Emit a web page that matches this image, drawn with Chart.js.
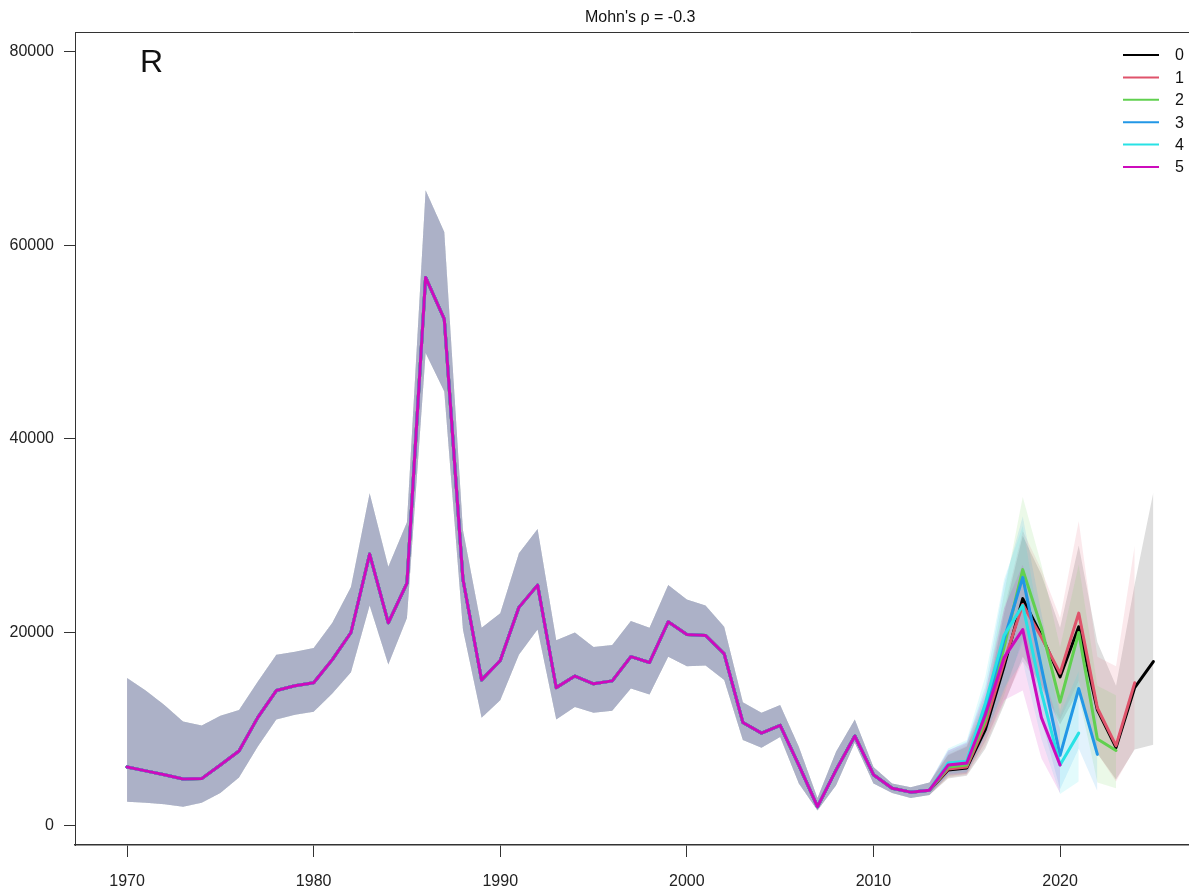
<!DOCTYPE html>
<html>
<head>
<meta charset="utf-8">
<title>Retrospective R</title>
<script src="https://cdn.jsdelivr.net/npm/chart.js@4.4.1/dist/chart.umd.min.js"></script>
<style>
  html, body { margin: 0; padding: 0; background: #fff; }
  canvas { display: block; }
</style>
</head>
<body>
<canvas id="retro" width="1189" height="894"></canvas>
<script>
const titleText = "Mohn's \u03c1 = -0.3";
const panelLabel = "R";

const years = [
  1970, 1971, 1972, 1973, 1974, 1975, 1976, 1977, 1978, 1979,
  1980, 1981, 1982, 1983, 1984, 1985, 1986, 1987, 1988, 1989,
  1990, 1991, 1992, 1993, 1994, 1995, 1996, 1997, 1998, 1999,
  2000, 2001, 2002, 2003, 2004, 2005, 2006, 2007, 2008, 2009,
  2010, 2011, 2012, 2013, 2014, 2015, 2016, 2017, 2018, 2019,
  2020, 2021, 2022, 2023, 2024, 2025
];
const xTicks = [1970, 1980, 1990, 2000, 2010, 2020];
const yTicks = [0, 20000, 40000, 60000, 80000];

// 1970-2013: all peels agree
const histR = [
  6100, 5700, 5300, 4860, 4900, 6300, 7750, 11200, 14000, 14500,
  14800, 17200, 20000, 28100, 21000, 25100, 56700, 52400, 25500, 15100,
  17100, 22600, 24900, 14300, 15500, 14700, 15000, 17500, 16900, 21100,
  19800, 19700, 17800, 10700, 9600, 10400, 6300, 2000, 5800, 9300,
  5300, 3900, 3500, 3700
];
const histLo = [
  2500, 2400, 2250, 2000, 2400, 3400, 5000, 8200, 11000, 11500,
  11800, 13700, 15900, 22800, 16700, 21500, 48900, 44900, 20300, 11200,
  13000, 17700, 20300, 11000, 12300, 11700, 11900, 14200, 13600, 17500,
  16500, 16600, 15100, 8900, 8100, 9200, 4400, 1600, 4200, 8600,
  4400, 3400, 2900, 3200
];
const histHi = [
  15300, 14000, 12500, 10800, 10400, 11400, 12000, 14900, 17700, 18000,
  18400, 21000, 24700, 34400, 26800, 31400, 65700, 61400, 30600, 20500,
  22000, 28200, 30700, 19200, 20000, 18500, 18700, 21200, 20500, 24900,
  23400, 22800, 20600, 12800, 11700, 12500, 8200, 2900, 7700, 11000,
  6100, 4400, 4000, 4500
];

// 2014 onwards, one tail per peel (peel k ends in 2025 - k)
const tailR0 = [5800, 6000, 10000, 16500, 23500, 19700, 15400, 20600, 12000, 8100, 14300, 17000];
const tailLo0 = [4900, 5200, 8000, 12500, 17500, 14500, 10500, 14000, 7500, 4800, 7900, 8400];
const tailHi0 = [7300, 8200, 12500, 22000, 30000, 26000, 20500, 29000, 19000, 14500, 25000, 34500];

const tailR1 = [5900, 6100, 10500, 17000, 22900, 19500, 15800, 22000, 12200, 8300, 14800];
const tailLo1 = [5000, 5300, 8300, 12800, 17000, 14200, 11000, 15000, 7500, 4600, 8000];
const tailHi1 = [7400, 8300, 13000, 22500, 30500, 26500, 21500, 31500, 17500, 16500, 29000];

const tailR2 = [6100, 6300, 11000, 18500, 26500, 20500, 12800, 20000, 9000, 7800];
const tailLo2 = [5100, 5400, 8700, 13500, 19500, 14500, 8000, 13500, 4500, 3900];
const tailHi2 = [7600, 8500, 13500, 24000, 34000, 27000, 18500, 27000, 14500, 13500];

const tailR3 = [6300, 6500, 12000, 19300, 25700, 16400, 7300, 14200, 7400];
const tailLo3 = [5300, 5500, 9300, 14000, 19000, 11000, 3800, 8000, 3600];
const tailHi3 = [7800, 8700, 14500, 25000, 32000, 22000, 12000, 20500, 12500];

const tailR4 = [6500, 6700, 12700, 19700, 22800, 13800, 6300, 9600];
const tailLo4 = [5400, 5600, 9500, 14300, 17000, 9000, 3300, 4600];
const tailHi4 = [8000, 8900, 15500, 25500, 31000, 19500, 11500, 16000];

const tailR5 = [6300, 6500, 11500, 17400, 20300, 11200, 6300];
const tailLo5 = [5200, 5400, 8800, 13000, 14000, 7000, 3400];
const tailHi5 = [7800, 8600, 14000, 22500, 27000, 16500, 10000];

const peelLabels = ["0", "1", "2", "3", "4", "5"];
const peelColors = ["#000000", "#DF536B", "#61D04F", "#2297E6", "#28E2E5", "#CD0BBC"];

const tailsR = [tailR0, tailR1, tailR2, tailR3, tailR4, tailR5];
const tailsLo = [tailLo0, tailLo1, tailLo2, tailLo3, tailLo4, tailLo5];
const tailsHi = [tailHi0, tailHi1, tailHi2, tailHi3, tailHi4, tailHi5];

const FONT = '"Liberation Sans", Arial, Helvetica, sans-serif';

const toPoints = (vals) => vals.map((v, j) => ({ x: years[j], y: v }));

const withAlpha = (hex, a) => {
  const n = parseInt(hex.slice(1), 16);
  return `rgba(${(n >> 16) & 255}, ${(n >> 8) & 255}, ${n & 255}, ${a})`;
};

const datasets = [];
// confidence bands: upper edge filled down to the lower edge right after it.
// higher order is drawn first, so peel 0's band goes down first
peelLabels.forEach((label, i) => {
  datasets.push({
    label: "hi" + label,
    data: toPoints(histHi.concat(tailsHi[i])),
    fill: "+1",
    backgroundColor: withAlpha(peelColors[i], 0.13),
    borderColor: "rgba(0,0,0,0)",
    borderWidth: 0,
    pointRadius: 0,
    order: 30 - i,
  });
  datasets.push({
    label: "lo" + label,
    data: toPoints(histLo.concat(tailsLo[i])),
    fill: false,
    borderColor: "rgba(0,0,0,0)",
    borderWidth: 0,
    pointRadius: 0,
    order: 30 - i,
  });
});
// estimates, last peel drawn on top
peelLabels.forEach((label, i) => {
  datasets.push({
    label: label,
    data: toPoints(histR.concat(tailsR[i])),
    fill: false,
    borderColor: peelColors[i],
    borderWidth: 3,
    borderJoinStyle: "round",
    borderCapStyle: "round",
    pointRadius: 0,
    order: 5 - i,
  });
});

const decorations = {
  id: "decorations",
  afterDraw(chart) {
    const { ctx, chartArea, scales } = chart;
    ctx.save();

    // top edge of the box
    ctx.strokeStyle = "#333";
    ctx.lineWidth = 1;
    ctx.beginPath();
    ctx.moveTo(chartArea.left, chartArea.top + 0.5);
    ctx.lineTo(chartArea.right, chartArea.top + 0.5);
    ctx.stroke();

    // title, centred on the data range
    const mid = (years[0] + years[years.length - 1]) / 2;
    ctx.fillStyle = "#111";
    ctx.font = "16px " + FONT;
    ctx.textAlign = "center";
    ctx.textBaseline = "middle";
    ctx.fillText(titleText, scales.x.getPixelForValue(mid), 18);

    // panel letter
    ctx.font = "32px " + FONT;
    ctx.textAlign = "left";
    ctx.fillText(panelLabel, chartArea.left + 65, chartArea.top + 31);

    // legend
    ctx.font = "16px " + FONT;
    ctx.lineWidth = 2;
    peelLabels.forEach((label, i) => {
      const y = chartArea.top + 23 + i * 22.4;
      ctx.strokeStyle = peelColors[i];
      ctx.beginPath();
      ctx.moveTo(chartArea.right - 66, y);
      ctx.lineTo(chartArea.right - 30, y);
      ctx.stroke();
      ctx.fillStyle = "#111";
      ctx.fillText(label, chartArea.right - 14, y + 1);
    });

    ctx.restore();
  },
};

const axisTicks = {
  font: { family: FONT, size: 16 },
  color: "#222",
  autoSkip: false,
  maxRotation: 0,
  callback: (v) => String(v),
};

new Chart(document.getElementById("retro"), {
  type: "line",
  data: { datasets },
  plugins: [decorations],
  options: {
    responsive: false,
    animation: false,
    events: [],
    layout: { padding: { top: 32, left: 0, right: 0, bottom: 0 } },
    plugins: {
      legend: { display: false },
      tooltip: { enabled: false },
      title: { display: false },
    },
    scales: {
      x: {
        type: "linear",
        min: 1967.21,
        max: 2026.91,
        afterBuildTicks: (scale) => { scale.ticks = xTicks.map((v) => ({ value: v })); },
        afterFit: (scale) => { scale.height = 49; },
        grid: { display: true, drawOnChartArea: false, drawTicks: true, tickLength: 12, tickColor: "#333" },
        border: { display: true, color: "#333", width: 1.5 },
        ticks: { ...axisTicks, padding: 15 },
      },
      y: {
        type: "linear",
        min: -1964,
        max: 82067,
        afterBuildTicks: (scale) => { scale.ticks = yTicks.map((v) => ({ value: v })); },
        afterFit: (scale) => { scale.width = 75; },
        grid: { display: true, drawOnChartArea: false, drawTicks: true, tickLength: 11, tickColor: "#333" },
        border: { display: true, color: "#333", width: 1 },
        ticks: { ...axisTicks, padding: 10 },
      },
    },
  },
});
</script>
</body>
</html>
